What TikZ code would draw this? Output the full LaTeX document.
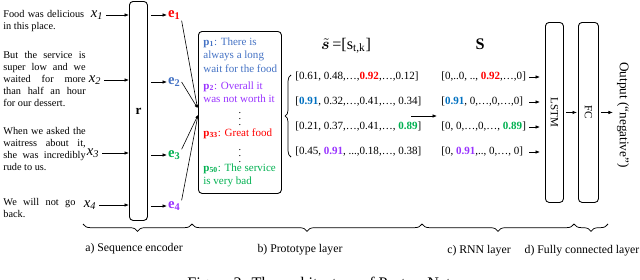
\documentclass[tikz,border=0pt]{standalone}
\usepackage{fontspec}
\setmainfont{Liberation Serif}
\usepackage{amsmath,bm}
\usetikzlibrary{arrows.meta,calc,decorations.pathreplacing}

\definecolor{cred}{RGB}{255,0,0}
\definecolor{cblue}{RGB}{68,114,196}
\definecolor{cdblue}{RGB}{0,112,192}
\definecolor{cgreen}{RGB}{0,176,80}
\definecolor{cpurple}{RGB}{153,51,255}

\newcommand{\jline}[2]{\makebox[#1][s]{#2}}
\def\px{0.68pt}

\begin{document}
\begin{tikzpicture}[
  x=0.68pt, y=-0.68pt,
  line width=0.5pt,
  sent/.style={anchor=north west, inner sep=0pt, align=left, font=\fontsize{7}{8.2}\selectfont},
  xin/.style={inner sep=0.5pt, font=\fontsize{10}{12}\selectfont\itshape},
  emb/.style={anchor=west, inner sep=0.5pt, font=\fontsize{10}{12}\selectfont\bfseries},
  col/.style={draw, rounded corners=2.5pt, line width=0.6pt, anchor=north west, inner sep=0pt},
  proto/.style={anchor=north west, inner sep=0pt, align=left, font=\fontsize{7.5}{9.2}\selectfont},
  vrow/.style={anchor=west, inner sep=0pt, font=\fontsize{7.5}{9}\selectfont},
  io/.style={-{Latex[length=3pt,width=2.4pt]}, line width=0.5pt},
  conv/.style={-{Latex[length=2.2pt,width=2pt]}, line width=0.4pt},
  brc/.style={decorate, decoration={brace, amplitude=#1}, line width=0.5pt},
  lbl/.style={font=\fontsize{8}{10}\selectfont, inner sep=0pt},
]
\useasboundingbox (0,0) rectangle (640,279);

% ---------------- a) sequence encoder ----------------
\node[sent] (s1) at (3,9.5) {\jline{55pt}{Food was delicious}\\in this place.};
\node[sent] (s2) at (3,50.5) {\jline{56pt}{But the service is}\\\jline{56pt}{super low and we}\\
  \jline{56pt}{waited for more}\\\jline{56pt}{than half an hour}\\for our dessert.};
\node[sent] (s3) at (3,126.5) {\jline{56pt}{When we asked the}\\\jline{56pt}{waitress about it,}\\
  \jline{56pt}{she was incredibly}\\rude to us.};
\node[sent] (s4) at (3,197.5) {\jline{49pt}{We will not go}\\back.};

\node[col, minimum width=18*\px, minimum height=219*\px] (rbox) at (129,1) {};
\node[font=\fontsize{9}{11}\selectfont\bfseries] (r) at (rbox.center) {r};

\node[xin] (x1) at (97,15) {x\textsubscript{1}};
\node[xin] (x2) at (95,80) {x\textsubscript{2}};
\node[xin] (x3) at (93,153) {x\textsubscript{3}};
\node[xin] (x4) at (90,205) {x\textsubscript{4}};
\foreach \i in {1,...,4} {
  \draw[io] ($(x\i.east)+(2,0)$) -- (x\i-|rbox.west);
}

\node[emb, text=cred] (e1) at (167,15) {e\textsubscript{1}};
\node[emb, text=cblue] (e2) at (167,82) {e\textsubscript{2}};
\node[emb, text=cgreen] (e3) at (167,155) {e\textsubscript{3}};
\node[emb, text=cpurple] (e4) at (167,206) {e\textsubscript{4}};
\foreach \i in {1,...,4} {
  \draw[io] ($(rbox.east|-e\i)+(3,0)$) -- (e\i.west);
}

% ---------------- b) prototype layer ----------------
\node[col, minimum width=83*\px, minimum height=162*\px] (pbox) at (198,31) {};
\coordinate (jA) at (197.5,108);
\coordinate (jB) at (198,115);
\draw[conv] (e1.south east) -- (jA);
\draw[conv] (e2.east) -- (jA);
\draw[conv] (e3.north east) -- (jB);
\draw[conv] (e4.north east) -- (jB);

\node[proto, text=cblue] (p1) at (203,37) {\textbf{p\textsubscript{1}}: There is\\always a long\\wait for the food};
\node[proto, text=cpurple] (p2) at (203,81) {\textbf{p\textsubscript{2}}: Overall it\\was not worth it};
\node[inner sep=0pt, font=\fontsize{7}{8}\selectfont] (dots1) at (240,115) {$\vdots$};
\node[proto, text=cred] (p33) at (203,128) {\textbf{p\textsubscript{33}}: Great food};
\node[inner sep=0pt, font=\fontsize{7}{8}\selectfont] (dots2) at (240,152) {$\vdots$};
\node[proto, text=cgreen] (p50) at (203,163) {\textbf{p\textsubscript{50}}: The service\\is very bad};

\node[inner sep=0pt, font=\fontsize{11}{13}\selectfont] (stitle) at (346,46) {$\tilde{\bm{s}}$\,=[s\textsubscript{t,k}]};
\draw[brc=4pt] (291,157) -- (291,75);
\foreach \i/\y/\txt in {
  1/77/{[0.61, 0.48,…,\textbf{\color{cred}0.92},…,0.12]},
  2/102/{[\textbf{\color{cdblue}0.91}, 0.32,…,0.41,…, 0.34]},
  3/127/{[0.21, 0.37,…,0.41,…, \textbf{\color{cgreen}0.89}]},
  4/152/{[0.45, \textbf{\color{cpurple}0.91}, ...,0.18,…, 0.38]}} {
  \node[vrow] (mrow\i) at (295,\y) {\txt};
}

% ---------------- c) RNN layer ----------------
\coordinate (mA) at (411,116);
\coordinate (mB) at (437,116);
\draw[io] (mA) -- (mB);
\node[inner sep=0pt, font=\fontsize{11}{13}\selectfont\bfseries] (stitle2) at (480,44) {S};
\foreach \i/\y/\txt in {
  1/77/{[0,..0, .., \textbf{\color{cred}0.92},…,0]},
  2/102/{[\textbf{\color{cdblue}0.91}, 0,…,0,…,0]},
  3/127/{[0, 0,…,0,…, \textbf{\color{cgreen}0.89}]},
  4/152/{[0, \textbf{\color{cpurple}0.91},.., 0,…, 0]}} {
  \node[vrow] (srow\i) at (441,\y) {\txt};
}

\node[col, minimum width=18*\px, minimum height=180*\px] (lstm) at (545,22) {};
\node[rotate=-90, font=\fontsize{7.5}{9}\selectfont] at (lstm.center) {LSTM};
\foreach \i in {1,...,4} {
  \draw[io] ($(lstm.west|-srow\i)+(-16,0)$) -- ($(lstm.west|-srow\i)+(-5,0)$);
}

% ---------------- d) fully connected layer ----------------
\node[col, minimum width=20*\px, minimum height=180*\px] (fc) at (578,22) {};
\node[rotate=-90, font=\fontsize{7.5}{9}\selectfont] at (fc.center) {FC};
\draw[io] ($(lstm.east)+(2,0)$) -- ($(fc.west)+(-1,0)$);
\node[rotate=-90, inner sep=0pt, font=\fontsize{9}{11}\selectfont] (out) at (623,115) {Output (``negative'')};
\draw[io] ($(fc.east)+(2,0)$) -- ($(fc.east)+(14,0)$);

% ---------------- braces + labels ----------------
\draw[brc=5pt] (192,224) -- (83,224);
\draw[brc=5pt] (422,224) -- (192,224);
\draw[brc=5pt] (574,224) -- (422,224);
\draw[brc=5pt] (608,224) -- (574,224);
\node[lbl] (la) at (134,249) {a) Sequence encoder};
\node[lbl] (lb) at (300,250) {b) Prototype layer};
\node[lbl] (lc) at (479,251) {c) RNN layer};
\node[lbl] (ld) at (582,251) {d) Fully connected layer};

\node[anchor=base west, inner sep=0pt, font=\fontsize{11}{13}\selectfont] (cap) at (187,288)
  {Figure 2: The architecture of ProtoryNet};

\end{tikzpicture}
\end{document}
